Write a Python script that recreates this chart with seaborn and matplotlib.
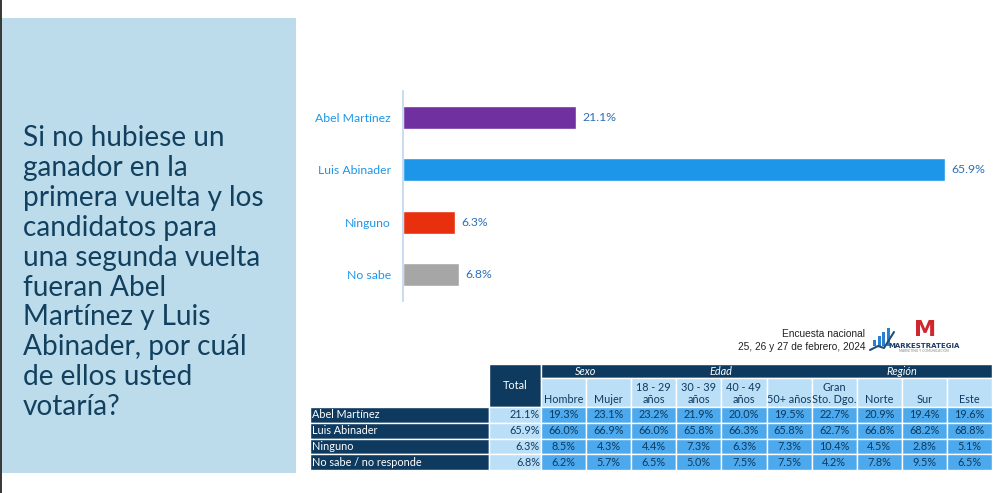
import numpy as np
import pandas as pd
import matplotlib
matplotlib.use("Agg")
import matplotlib.pyplot as plt
import seaborn as sns
from matplotlib.patches import Rectangle

# ---------------- data ----------------
categories = ["Abel Martínez", "Luis Abinader", "Ninguno", "No sabe"]
values = [21.1, 65.9, 6.3, 6.8]
bar_colors = ["#7030A0", "#1D96EA", "#E8300E", "#A6A6A6"]

title_lines = ["Si no hubiese un", "ganador en la", "primera vuelta y los",
               "candidatos para", "una segunda vuelta", "fueran Abel",
               "Martínez y Luis", "Abinader, por cuál", "de ellos usted",
               "votaría?"]

row_labels = ["Abel Martínez", "Luis Abinader", "Ninguno", "No sabe / no responde"]
col_labels = ["Total", "Hombre", "Mujer", "18 - 29\naños", "30 - 39\naños",
              "40 - 49\naños", "50+ años", "Gran\nSto. Dgo.", "Norte", "Sur", "Este"]
group_labels = ["Sexo", "Edad", "Región"]
group_spans = [2, 4, 4]

total = [21.1, 65.9, 6.3, 6.8]
hombre = [19.3, 66.0, 8.5, 6.2]
mujer = [23.1, 66.9, 4.3, 5.7]
a18_29 = [23.2, 66.0, 4.4, 6.5]
a30_39 = [21.9, 65.8, 7.3, 5.0]
a40_49 = [20.0, 66.3, 6.3, 7.5]
a50 = [19.5, 65.8, 7.3, 7.5]
gran_sd = [22.7, 62.7, 10.4, 4.2]
norte = [20.9, 66.8, 4.5, 7.8]
sur = [19.4, 68.2, 2.8, 9.5]
este = [19.6, 68.8, 5.1, 6.5]

source_lines = ["Encuesta nacional", "25, 26 y 27 de febrero, 2024"]

# ---------------- styling ----------------
W, H = 1006, 493
sns.set_theme(style="white")
plt.rcParams["font.family"] = ["Lato", "DejaVu Sans"]

PANEL = "#BDDCEB"
NAVY = "#0D3A5E"
TITLE_C = "#12405F"
CAT_C = "#1E96EA"
VAL_C = "#2F6FB5"
LIGHT = "#BCDFF8"
MID = "#4CA9EE"

fig = plt.figure(figsize=(W / 100, H / 100), dpi=100)
fig.patch.set_facecolor("white")


def box(l, t, r, b):
    return [l / W, 1 - b / H, (r - l) / W, (b - t) / H]


# left dark strip and light panel
fig.add_artist(Rectangle((0, 0), 2 / W, 1, transform=fig.transFigure,
                         color="#3A3A3A", lw=0))
fig.add_artist(Rectangle((2 / W, 1 - 473 / H), 294 / W, 455 / H,
                         transform=fig.transFigure, color=PANEL, lw=0))
for i, line in enumerate(title_lines):
    fig.text(23 / W, 1 - (146 + i * 29.9) / H, line, fontsize=20.2,
             color=TITLE_C, ha="left", va="baseline")

# ---------------- bar chart ----------------
ax = fig.add_axes(box(403, 91, 990, 301))
df = pd.DataFrame({"cat": categories, "val": values})
sns.barplot(data=df, x="val", y="cat", hue="cat", palette=bar_colors,
            legend=False, width=0.44, ax=ax, saturation=1, orient="h")
ax.set_xlim(0, (990 - 403) / 8.22)
ax.set_xlabel("")
ax.set_ylabel("")
ax.set_xticks([])
for s in ["top", "right", "bottom"]:
    ax.spines[s].set_visible(False)
ax.spines["left"].set_color("#BDD7EE")
ax.spines["left"].set_linewidth(1.2)
ax.tick_params(axis="y", length=0, pad=8.6, labelsize=8.8, labelcolor=CAT_C)
ax.set_facecolor("none")
for cont in ax.containers:
    ax.bar_label(cont, labels=[f"{v.get_width():.1f}%" for v in cont],
                 padding=4.5, fontsize=8.8, color=VAL_C)

# ---------------- source text + logo ----------------
for i, s in enumerate(source_lines):
    fig.text(865 / W, 1 - (337 + i * 13.5) / H, s, fontsize=7.3,
             family=["Liberation Sans", "DejaVu Sans"],
             color="#222222", ha="right", va="baseline")
lax = fig.add_axes(box(868, 316, 958, 354))
lax.set_xlim(0, 90)
lax.set_ylim(38, 0)
lax.axis("off")
icon_h = [6, 10, 14, 18]
for k, hgt in enumerate(icon_h):
    lax.add_patch(Rectangle((5 + k * 4.5, 30 - hgt), 3.2, hgt, color="#2A7FD0", lw=0))
lax.plot([2, 10, 16, 26], [34, 30, 32, 16], color="#1E4E7A", lw=1.5)
lax.text(57, 20, "M", fontsize=16, fontweight="bold", color="#D0262E",
         ha="center", va="baseline", family=["DejaVu Sans"])
lax.text(56, 30, "MARKESTRATEGIA", fontsize=5.0, fontweight="bold",
         color="#1F3D66", ha="center", va="center",
         family=["DejaVu Sans Condensed", "DejaVu Sans"])
lax.text(56, 35.5, "MARKETING Y COMUNICACIÓN", fontsize=2.4, color="#888888",
         ha="center", va="center")

# ---------------- table ----------------
tab = np.array([total, hombre, mujer, a18_29, a30_39, a40_49, a50,
                gran_sd, norte, sur, este]).T
T_L, T_R, T_T, T_B = 310, 992, 364, 470
tax = fig.add_axes(box(T_L, T_T, T_R, T_B))
tax.set_xlim(T_L, T_R)
tax.set_ylim(T_B, T_T)
tax.axis("off")

label_w, total_w = 179, 52
data_w = (T_R - T_L - label_w - total_w) / (len(col_labels) - 1)
col_edges = [T_L, T_L + label_w, T_L + label_w + total_w]
for j in range(len(col_labels) - 1):
    col_edges.append(col_edges[-1] + data_w)
h1, h2 = 14, 29
row_h = (T_B - T_T - h1 - h2) / len(row_labels)
row_edges = [T_T + h1 + h2 + i * row_h for i in range(len(row_labels) + 1)]
fs = 7.8


def cell(x0, x1, y0, y1, fc):
    tax.add_patch(Rectangle((x0, y0), x1 - x0, y1 - y0, facecolor=fc,
                            edgecolor="white", lw=1.0))


# Total header
cell(col_edges[1], col_edges[2], T_T, T_T + h1 + h2, NAVY)
tax.text((col_edges[1] + col_edges[2]) / 2, T_T + (h1 + h2) / 2, col_labels[0],
         color="white", fontsize=fs, ha="center", va="center")
# group header band
cell(col_edges[2], col_edges[-1], T_T, T_T + h1, NAVY)
start = 2
for g, span in zip(group_labels, group_spans):
    cx = (col_edges[start] + col_edges[start + span]) / 2
    tax.text(cx, T_T + h1 / 2, g, color="white", fontsize=fs, style="italic",
             ha="center", va="center")
    start += span
# sub headers
for j in range(1, len(col_labels)):
    x0, x1 = col_edges[j + 1], col_edges[j + 2]
    cell(x0, x1, T_T + h1, T_T + h1 + h2, LIGHT)
    tax.text((x0 + x1) / 2, T_T + h1 + h2 - 2, col_labels[j], color=NAVY,
             fontsize=fs, ha="center", va="bottom", linespacing=1.15)
# data rows
for i, rl in enumerate(row_labels):
    y0, y1 = row_edges[i], row_edges[i + 1]
    cell(col_edges[0], col_edges[1], y0, y1, NAVY)
    tax.text(col_edges[0] + 2, (y0 + y1) / 2, rl, color="white", fontsize=fs,
             ha="left", va="center")
    for j in range(len(col_labels)):
        x0, x1 = col_edges[j + 1], col_edges[j + 2]
        cell(x0, x1, y0, y1, LIGHT if j == 0 else MID)
        txt = f"{tab[i, j]:.1f}%"
        if j == 0:
            tax.text(x1 - 1, (y0 + y1) / 2, txt, color=NAVY, fontsize=fs,
                     ha="right", va="center")
        else:
            tax.text((x0 + x1) / 2, (y0 + y1) / 2, txt, color=NAVY,
                     fontsize=fs, ha="center", va="center")

fig.savefig("out.png", dpi=100)
